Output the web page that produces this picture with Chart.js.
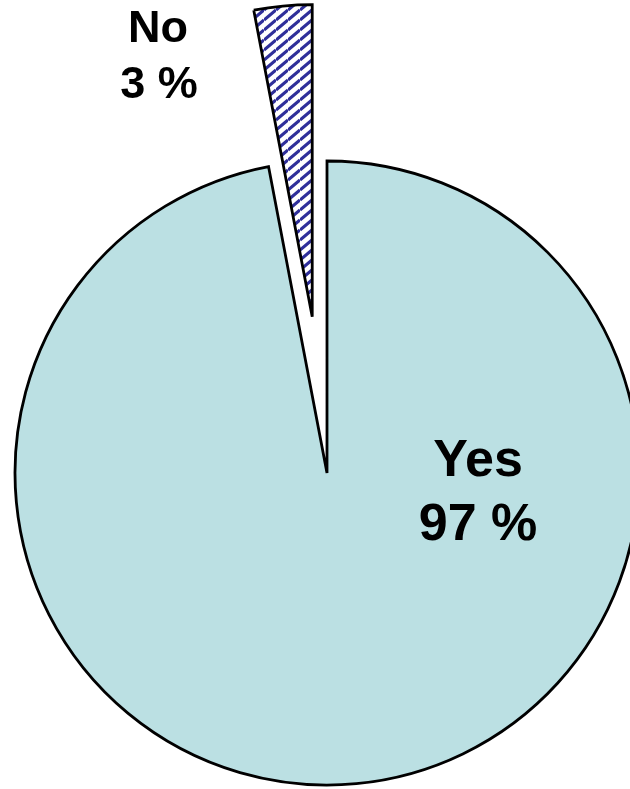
<!DOCTYPE html>
<html>
<head>
<meta charset="utf-8">
<script src="https://cdn.jsdelivr.net/npm/chart.js@4"></script>
<style>
  html, body { margin: 0; padding: 0; background: #fff; }
  #wrap { width: 630px; height: 789px; }
</style>
</head>
<body>
<div id="wrap"><canvas id="pieChart" width="630" height="789"></canvas></div>
<script>
const categories = ['Yes', 'No'];
const shares = [97, 3];
const labelLines = [['Yes', '97 %'], ['No', '3 %']];

// diagonal navy hatching for the "No" slice
function hatch() {
  const c = document.createElement('canvas');
  c.width = 12; c.height = 10;
  const g = c.getContext('2d');
  g.fillStyle = '#fff';
  g.fillRect(0, 0, 12, 10);
  g.strokeStyle = '#2f2f9a';
  g.lineWidth = 3.2;
  g.beginPath();
  for (let k = -1; k <= 1; k++) {
    g.moveTo(0, 10 * k + 10);
    g.lineTo(12, 10 * k);
  }
  g.stroke();
  return g.createPattern(c, 'repeat');
}

// pull the small slice out along its bisector
const explode = {
  id: 'explode',
  afterDatasetsUpdate(chart) {
    const arc = chart.getDatasetMeta(0).data[1];
    const mid = (arc.startAngle + arc.endAngle) / 2;
    arc.x += Math.cos(mid) * 157;
    arc.y += Math.sin(mid) * 157;
  }
};

// slice labels
const sliceLabels = {
  id: 'sliceLabels',
  afterDraw(chart) {
    const ctx = chart.ctx;
    ctx.save();
    ctx.fillStyle = '#000';
    ctx.textAlign = 'center';
    ctx.textBaseline = 'alphabetic';
    ctx.font = 'bold 52px "Liberation Sans", Arial, sans-serif';
    ctx.fillText(labelLines[0][0], 478, 476);
    ctx.fillText(labelLines[0][1], 478, 540);
    ctx.font = 'bold 45px "Liberation Sans", Arial, sans-serif';
    ctx.fillText(labelLines[1][0], 158, 42);
    ctx.fillText(labelLines[1][1], 159, 98);
    ctx.restore();
  }
};

new Chart(document.getElementById('pieChart'), {
  type: 'pie',
  data: {
    labels: categories,
    datasets: [{
      data: shares,
      backgroundColor: ['#bbe0e3', hatch()],
      borderColor: '#000',
      borderWidth: 2.8,
      borderJoinStyle: 'miter',
      clip: false
    }]
  },
  options: {
    responsive: false,
    animation: false,
    events: [],
    radius: 312,
    layout: { padding: { left: 24, right: 0, top: 157, bottom: 0 } },
    plugins: {
      legend: { display: false },
      tooltip: { enabled: false }
    }
  },
  plugins: [explode, sliceLabels]
});
</script>
</body>
</html>
